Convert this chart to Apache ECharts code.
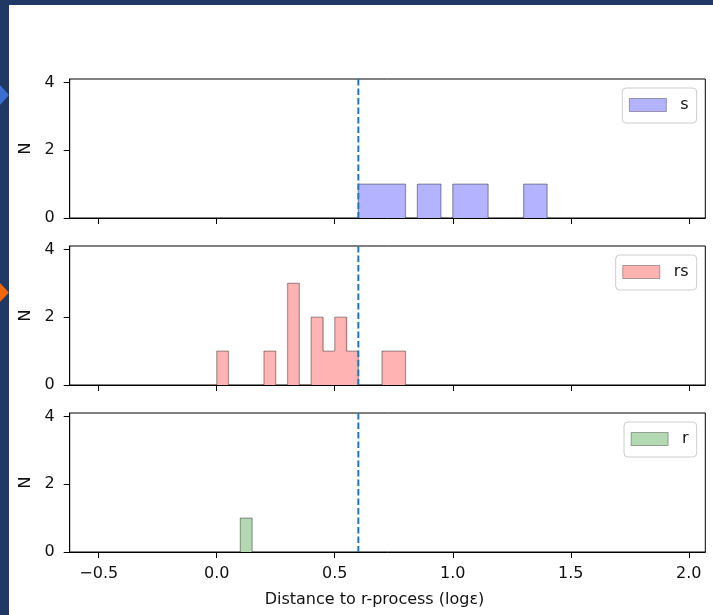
<!DOCTYPE html>
<html>
<head>
<meta charset="utf-8">
<script src="https://cdn.jsdelivr.net/npm/echarts@6/dist/echarts.min.js"></script>
<style>
  html, body { margin: 0; padding: 0; background: #ffffff; }
  #chart { width: 713px; height: 615px; }
</style>
</head>
<body>
<div id="chart"></div>
<script>
// ---- data ----
const seriesNames = ['s', 'rs', 'r'];
const binWidth = 0.05;
// histogram bin left edges and counts per class
const sBins = [0.60, 0.65, 0.70, 0.75, 0.85, 0.90, 1.00, 1.05, 1.10, 1.30, 1.35];
const sCounts = [1, 1, 1, 1, 1, 1, 1, 1, 1, 1, 1];
const rsBins = [0.00, 0.20, 0.30, 0.40, 0.45, 0.50, 0.55, 0.70, 0.75];
const rsCounts = [1, 1, 3, 2, 1, 2, 1, 1, 1];
const rBins = [0.10];
const rCounts = [1];
const threshold = 0.6;
const xTicks = [-0.5, 0.0, 0.5, 1.0, 1.5, 2.0];
const yTicks = [0, 2, 4];
const xLabel = 'Distance to r-process (logε)';
const yLabel = 'N';

// ---- styles ----
const FONT = 'DejaVu Sans';
const fills = ['#b3b3ff', '#ffb3b3', '#b3d9b3'];
const EDGE = 'rgba(0,0,0,0.32)';
const gridTops = [79, 246, 413];
const gridH = 139;
const X_MIN = -0.623, X_MAX = 2.07;
const Y_MIN = 0, Y_MAX = 4.1;

const allBins = [sBins, rsBins, rBins];
const allCounts = [sCounts, rsCounts, rCounts];

function histSeries(idx) {
  const bins = allBins[idx], counts = allCounts[idx];
  const data = bins.map((b, i) => [b, +(b + binWidth).toFixed(6), counts[i]]);
  return {
    type: 'custom',
    name: seriesNames[idx],
    xAxisIndex: idx,
    yAxisIndex: idx,
    data: data,
    z: 2,
    silent: true,
    itemStyle: { color: fills[idx], borderColor: EDGE, borderWidth: 1 },
    renderItem: function (params, api) {
      const x0 = api.value(0), x1 = api.value(1), c = api.value(2);
      let prev = 0, hasNext = false;
      data.forEach(d => {
        if (Math.abs(d[1] - x0) < 1e-6) prev = d[2];
        if (Math.abs(d[0] - x1) < 1e-6) hasNext = true;
      });
      const bl = api.coord([x0, 0]);
      const tl = api.coord([x0, c]);
      const tr = api.coord([x1, c]);
      const br = api.coord([x1, 0]);
      const pl = api.coord([x0, prev]);
      const children = [{
        type: 'rect',
        shape: { x: bl[0], y: tl[1], width: (tr[0] - bl[0]) + (hasNext ? 0.6 : 0), height: bl[1] - tl[1] },
        style: { fill: fills[idx], stroke: null }
      }, {
        type: 'line',
        shape: { x1: tl[0], y1: tl[1], x2: tr[0], y2: tr[1] },
        style: { stroke: EDGE, lineWidth: 1.3 }
      }];
      if (prev !== c) {
        children.push({
          type: 'line',
          shape: { x1: pl[0], y1: pl[1], x2: tl[0], y2: tl[1] },
          style: { stroke: EDGE, lineWidth: 1.3 }
        });
      }
      if (!hasNext) {
        children.push({
          type: 'line',
          shape: { x1: tr[0], y1: tr[1], x2: br[0], y2: br[1] },
          style: { stroke: EDGE, lineWidth: 1.3 }
        });
      }
      return { type: 'group', children: children };
    }
  };
}

function thresholdSeries(idx) {
  return {
    type: 'custom',
    name: 'threshold' + idx,
    xAxisIndex: idx,
    yAxisIndex: idx,
    data: [[threshold]],
    z: 3,
    silent: true,
    renderItem: function (params, api) {
      const p = api.coord([api.value(0), 0]);
      const cs = params.coordSys;
      return {
        type: 'line',
        shape: { x1: p[0], y1: cs.y, x2: p[0], y2: cs.y + cs.height },
        style: { stroke: '#1f77b4', lineWidth: 2, lineDash: [6.5, 3] }
      };
    }
  };
}

const fmtX = v => (v < 0 ? '\u2212' : '') + Math.abs(v).toFixed(1);

const option = {
  backgroundColor: '#ffffff',
  animation: false,
  textStyle: { fontFamily: FONT },
  graphic: [
    { type: 'rect', left: 0, top: 0, shape: { width: 713, height: 5 }, style: { fill: '#1f3864' }, z: 100 },
    { type: 'rect', left: 0, top: 0, shape: { width: 9, height: 615 }, style: { fill: '#1f3864' }, z: 100 },
    { type: 'polygon', shape: { points: [[0, 85], [9, 95], [0, 105]] }, style: { fill: '#3b6fd4' }, z: 101 },
    { type: 'polygon', shape: { points: [[0, 283], [9, 292.5], [0, 302]] }, style: { fill: '#f0660a' }, z: 101 }
  ],
  grid: gridTops.map(t => ({
    left: 69.7, right: 7.7, top: t, height: gridH,
    show: true, borderColor: '#000', borderWidth: 1, backgroundColor: '#fff'
  })),
  xAxis: [0, 1, 2].map(i => ({
    gridIndex: i,
    type: 'value',
    min: X_MIN, max: X_MAX,
    axisLine: { show: true, onZero: false, lineStyle: { color: '#000', width: 1 } },
    axisTick: { show: true, inside: false, length: 6, customValues: xTicks, lineStyle: { color: '#000', width: 1 } },
    axisLabel: { show: i === 2, customValues: xTicks, formatter: fmtX, fontSize: 16, fontFamily: FONT, color: '#111', margin: 14 },
    splitLine: { show: false },
    name: i === 2 ? xLabel : '',
    nameLocation: 'middle',
    nameGap: 40,
    nameTextStyle: { fontSize: 16, fontFamily: FONT, color: '#111', padding: [0, 26, 0, 0] }
  })),
  yAxis: [0, 1, 2].map(i => ({
    gridIndex: i,
    type: 'value',
    min: Y_MIN, max: Y_MAX,
    axisLine: { show: true, onZero: false, lineStyle: { color: '#000', width: 1 } },
    axisTick: { show: true, inside: false, length: 6, customValues: yTicks, lineStyle: { color: '#000', width: 1 } },
    axisLabel: { show: true, customValues: yTicks, formatter: v => String(v), fontSize: 16, fontFamily: FONT, color: '#111', margin: 15 },
    splitLine: { show: false },
    name: yLabel,
    nameLocation: 'middle',
    nameGap: 35,
    nameTextStyle: { fontSize: 16, fontFamily: FONT, color: '#111' }
  })),
  legend: [0, 1, 2].map(i => ({
    data: [{ name: seriesNames[i], icon: 'rect', itemStyle: { color: fills[i], borderColor: EDGE, borderWidth: 1 } }],
    right: 16.3,
    top: gridTops[i] + 9,
    orient: 'horizontal',
    itemWidth: 37,
    itemHeight: 13,
    padding: [9, 8, 10, 6.6],
    backgroundColor: 'rgba(255,255,255,0.8)',
    borderColor: '#cccccc',
    borderWidth: 1,
    borderRadius: 4,
    selectedMode: false,
    z: 10,
    textStyle: { fontSize: 16, fontFamily: FONT, color: '#111', padding: [0, 0, 0, 9], lineHeight: 14 }
  })),
  series: [0, 1, 2].map(histSeries).concat([0, 1, 2].map(thresholdSeries))
};

const chart = echarts.init(document.getElementById('chart'), null, { renderer: 'canvas' });
chart.setOption(option);
</script>
</body>
</html>
